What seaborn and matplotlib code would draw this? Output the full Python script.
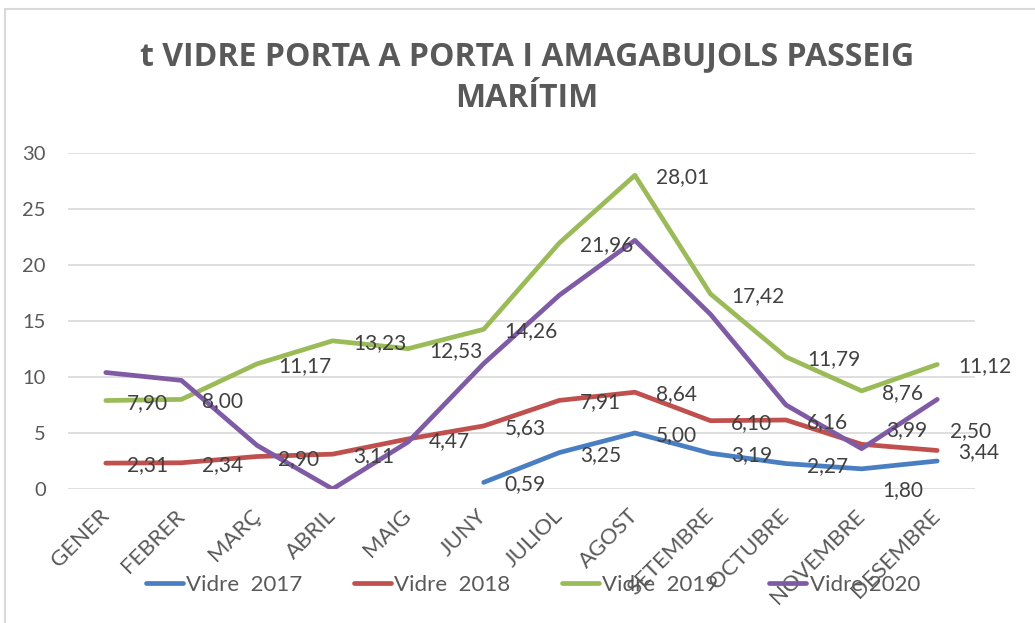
import matplotlib.pyplot as plt
import matplotlib.transforms as mtransforms
import seaborn as sns
import pandas as pd
import numpy as np
from matplotlib.patches import Rectangle

# data
mesos = ["GENER", "FEBRER", "MARÇ", "ABRIL", "MAIG", "JUNY", "JULIOL",
         "AGOST", "SETEMBRE", "OCTUBRE", "NOVEMBRE", "DESEMBRE"]
vidre_2017 = [np.nan, np.nan, np.nan, np.nan, np.nan, 0.59, 3.25, 5.00, 3.19, 2.27, 1.80, 2.50]
vidre_2018 = [2.31, 2.34, 2.90, 3.11, 4.47, 5.63, 7.91, 8.64, 6.10, 6.16, 3.99, 3.44]
vidre_2019 = [7.90, 8.00, 11.17, 13.23, 12.53, 14.26, 21.96, 28.01, 17.42, 11.79, 8.76, 11.12]
vidre_2020 = [10.4, 9.7, 3.9, 0.0, 4.2, 11.2, 17.3, 22.2, 15.6, 7.5, 3.6, 8.0]

series = {"Vidre  2017": vidre_2017, "Vidre  2018": vidre_2018,
          "Vidre  2019": vidre_2019, "Vidre 2020": vidre_2020}
colors = {"Vidre  2017": "#4A7EC2", "Vidre  2018": "#C0504D",
          "Vidre  2019": "#9BBB59", "Vidre 2020": "#7F5BA6"}
labelled = ["Vidre  2017", "Vidre  2018", "Vidre  2019"]
# Excel moved a few overlapping labels (dx, dy in points)
nudges = {("Vidre  2017", 11): (-6, 23), ("Vidre  2017", 10): (0, -14),
          ("Vidre  2018", 10): (3, 12)}

rows = []
for name, vals in series.items():
    for i, v in enumerate(vals):
        rows.append({"mes": i, "valor": v, "serie": name})
df = pd.DataFrame(rows).dropna()

sns.set_style("white")
plt.rcParams["font.family"] = ["Lato", "DejaVu Sans"]

fig = plt.figure(figsize=(10.35, 6.23), dpi=100)
ax = fig.add_axes([68 / 1035, 1 - 489 / 623, 907 / 1035, 336 / 623])

sns.lineplot(data=df, x="mes", y="valor", hue="serie", palette=colors,
             linewidth=3.4, ax=ax, legend=True)

for name in labelled:
    for i, v in enumerate(series[name]):
        if np.isnan(v):
            continue
        dx, dy = nudges.get((name, i), (0, 0))
        ax.annotate(f"{v:.2f}".replace(".", ","), (i, v),
                    xytext=(15 + dx, -1.5 + dy), textcoords="offset points",
                    ha="left", va="center", fontsize=15, color="#404040",
                    zorder=5)

ax.set_xlim(-0.5, 11.5)
ax.set_ylim(0, 30)
ax.set_yticks(range(0, 31, 5))
ax.set_xticks(range(12))
ax.set_xticklabels(mesos, rotation=45, ha="right", va="center",
                   rotation_mode="anchor")
shift = mtransforms.ScaledTranslation(16 / 100, 0, fig.dpi_scale_trans)
for lab in ax.get_xticklabels():
    lab.set_transform(lab.get_transform() + shift)
ax.tick_params(axis="x", length=0, pad=17, labelsize=16, labelcolor="#595959")
ax.tick_params(axis="y", length=0, pad=16, labelsize=14.5, labelcolor="#595959")
ax.set_xlabel("")
ax.set_ylabel("")
ax.yaxis.grid(True, color="#D9D9D9", linewidth=1.2)
ax.set_axisbelow(True)
for s in ax.spines.values():
    s.set_visible(False)

handles, labels = ax.get_legend_handles_labels()
ax.get_legend().remove()
fig.legend(handles, labels, loc="center", bbox_to_anchor=(0.515, 0.061),
           ncol=4, frameon=False, fontsize=16, labelcolor="#595959",
           handlelength=1.67, handletextpad=0.15, columnspacing=2.3)

fig.text(0.509, 1 - 78 / 623, "t VIDRE PORTA A PORTA I AMAGABUJOLS PASSEIG\nMARÍTIM",
         ha="center", va="center", fontsize=23, fontweight="bold",
         color="#595959", family=["Open Sans", "DejaVu Sans"], linespacing=1.35)

fig.add_artist(Rectangle((5 / 1035, -0.1), 1.2, 0.1 + 1 - 9 / 623,
                         transform=fig.transFigure, fill=False,
                         edgecolor="#D9D9D9", linewidth=1.5))

fig.savefig("out.png", dpi=100)
